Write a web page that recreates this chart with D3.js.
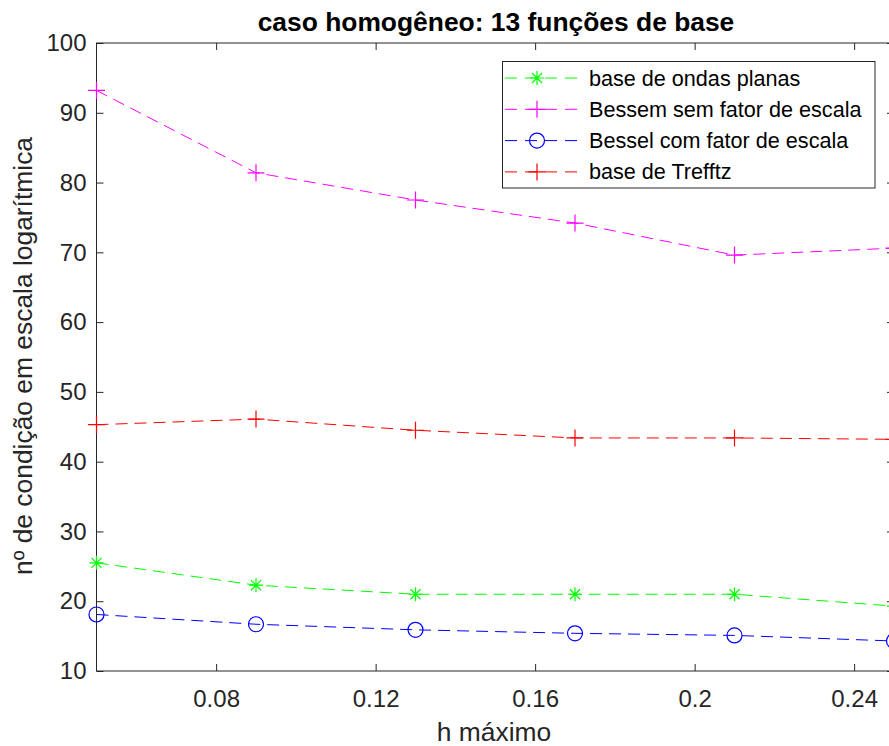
<!DOCTYPE html>
<html>
<head>
<meta charset="utf-8">
<script src="https://cdn.jsdelivr.net/npm/d3@7"></script>
<style>
  body { margin: 0; background: #fff; }
  svg { font-family: "Liberation Sans", Arial, sans-serif; }
</style>
</head>
<body>
<div id="graph-container"></div>
<script>
// dados
var hMax = [0.05, 0.09, 0.13, 0.17, 0.21, 0.25];
var ondasPlanas = [25.5, 22.3, 21.0, 21.0, 21.0, 19.3];
var besselSemFator = [93.2, 81.4, 77.5, 74.2, 69.6, 70.6];
var besselComFator = [18.1, 16.7, 15.9, 15.4, 15.1, 14.3];
var trefftz = [45.3, 46.1, 44.5, 43.4, 43.4, 43.2];

var xTicks = [0.08, 0.12, 0.16, 0.2, 0.24];
var yTicks = [10, 20, 30, 40, 50, 60, 70, 80, 90, 100];

var series = [
    {nome: "base de ondas planas", valores: ondasPlanas, cor: "#00ff00", marcador: "star"},
    {nome: "Bessem sem fator de escala", valores: besselSemFator, cor: "#ff00ff", marcador: "plus"},
    {nome: "Bessel com fator de escala", valores: besselComFator, cor: "#0000ff", marcador: "circle"},
    {nome: "base de Trefftz", valores: trefftz, cor: "#ff0000", marcador: "plus"}
];

var width = 889, height = 746;
var margin = {left: 96.5, right: -5, top: 43, bottom: 75};
var axisColor = "#262626";

var svg = d3.select("#graph-container").append("svg")
    .attr("width", width).attr("height", height);

var x = d3.scaleLinear().domain([0.05, 0.25]).range([margin.left, width - margin.right]);
var y = d3.scaleLinear().domain([10, 100]).range([height - margin.bottom, margin.top]);

// caixa do gráfico
svg.append("rect")
    .attr("x", x(0.05)).attr("y", y(100))
    .attr("width", x(0.25) - x(0.05)).attr("height", y(10) - y(100))
    .attr("fill", "none").attr("stroke", axisColor).attr("stroke-width", 1);

// eixos com marcas para dentro
function styleAxis(g) {
    g.select(".domain").remove();
    g.selectAll(".tick line").attr("stroke", axisColor);
    g.selectAll(".tick text").attr("fill", axisColor).style("font-size", "24px");
}
svg.append("g").attr("transform", "translate(0," + y(10) + ")")
    .call(d3.axisBottom(x).tickValues(xTicks).tickSizeInner(-7).tickSizeOuter(0).tickPadding(19)
        .tickFormat(d => String(d)))
    .call(styleAxis);
svg.append("g").attr("transform", "translate(0," + y(100) + ")")
    .call(d3.axisTop(x).tickValues(xTicks).tickSizeInner(-7).tickSizeOuter(0).tickFormat(""))
    .call(styleAxis);
svg.append("g").attr("transform", "translate(" + x(0.05) + ",0)")
    .call(d3.axisLeft(y).tickValues(yTicks).tickSizeInner(-7).tickSizeOuter(0).tickPadding(10))
    .call(styleAxis);
svg.append("g").attr("transform", "translate(" + x(0.25) + ",0)")
    .call(d3.axisRight(y).tickValues(yTicks).tickSizeInner(-7).tickSizeOuter(0).tickFormat(""))
    .call(styleAxis);

// marcadores
function drawMarker(g, tipo, cor, cx, cy) {
    if (tipo === "circle") {
        g.append("circle").attr("cx", cx).attr("cy", cy).attr("r", 7.5)
            .attr("fill", "none").attr("stroke", cor).attr("stroke-width", 1.2);
    } else if (tipo === "plus") {
        var s = 8.5;
        g.append("path").attr("d", "M" + (cx - s) + "," + cy + "H" + (cx + s) + "M" + cx + "," + (cy - s) + "V" + (cy + s))
            .attr("stroke", cor).attr("stroke-width", 1.2);
    } else {
        var s = 7, d = s * 0.72;
        g.append("path").attr("d",
            "M" + (cx - s) + "," + cy + "H" + (cx + s) +
            "M" + cx + "," + (cy - s) + "V" + (cy + s) +
            "M" + (cx - d) + "," + (cy - d) + "L" + (cx + d) + "," + (cy + d) +
            "M" + (cx - d) + "," + (cy + d) + "L" + (cx + d) + "," + (cy - d))
            .attr("stroke", cor).attr("stroke-width", 1.2);
    }
}

var line = d3.line().x(d => x(d[0])).y(d => y(d[1]));
var plot = svg.append("g");
series.forEach(function (s) {
    var pts = hMax.map((h, i) => [h, s.valores[i]]);
    plot.append("path").datum(pts)
        .attr("d", line)
        .attr("fill", "none").attr("stroke", s.cor).attr("stroke-width", 1)
        .attr("stroke-dasharray", "12,7");
    pts.forEach(p => drawMarker(plot, s.marcador, s.cor, x(p[0]), y(p[1])));
});

// legenda
var leg = svg.append("g");
leg.append("rect").attr("x", 502.5).attr("y", 61.5).attr("width", 372.5).attr("height", 126.5)
    .attr("fill", "#fff").attr("stroke", axisColor).attr("stroke-width", 1);
series.forEach(function (s, i) {
    var ly = 78 + i * 31.3;
    leg.append("path").attr("d", "M505," + ly + "H583")
        .attr("stroke", s.cor).attr("stroke-width", 1).attr("stroke-dasharray", "12,8");
    drawMarker(leg, s.marcador, s.cor, 537, ly);
    leg.append("text").attr("x", 589).attr("y", ly).attr("dy", "0.35em")
        .attr("fill", "#000").style("font-size", "21.6px").text(s.nome);
});

// títulos
svg.append("text").attr("x", 496).attr("y", 31)
    .attr("text-anchor", "middle").style("font-size", "26.4px").style("font-weight", "bold")
    .attr("fill", "#000").text("caso homogêneo: 13 funções de base");
svg.append("text").attr("x", 494).attr("y", 741)
    .attr("text-anchor", "middle").style("font-size", "26.4px").attr("fill", axisColor)
    .text("h máximo");
svg.append("text").attr("transform", "translate(32,356) rotate(-90)")
    .attr("text-anchor", "middle").style("font-size", "26.4px").attr("fill", axisColor)
    .text("nº de condição em escala logarítmica");
</script>
</body>
</html>
